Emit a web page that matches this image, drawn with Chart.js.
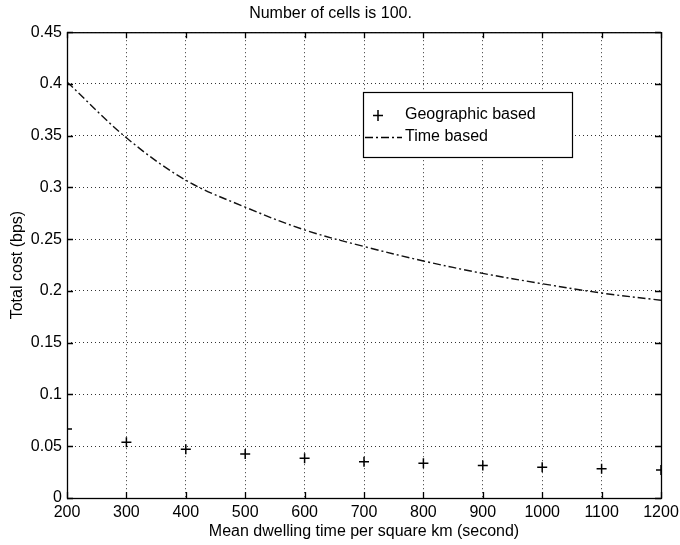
<!DOCTYPE html>
<html>
<head>
<meta charset="utf-8">
<script src="https://cdn.jsdelivr.net/npm/chart.js@4"></script>
<style>
  html, body { margin: 0; padding: 0; background: #fff; }
  #wrap { width: 680px; height: 545px; }
</style>
</head>
<body>
<div id="wrap"><canvas id="costChart" width="680" height="545"></canvas></div>
<script>
// dwelling time (s) and total cost (bps)
const dwellTimes = [200, 300, 400, 500, 600, 700, 800, 900, 1000, 1100, 1200];
const geographicCost = [0.0666, 0.0538, 0.047, 0.0425, 0.0383, 0.035, 0.0335, 0.0315, 0.0296, 0.0283, 0.027];
const timeCost = [0.402, 0.348, 0.307, 0.281, 0.259, 0.243, 0.229, 0.217, 0.207, 0.198, 0.191];
const seriesNames = ["Geographic based", "Time based"];

const FONT = "'Liberation Sans', Arial, Helvetica, sans-serif";
const DASHDOT = [8, 3, 2, 3];

// box round the plot with inward ticks on all four sides (matlab look)
const frame = {
  id: "frame",
  afterDatasetsDraw(chart) {
    const { ctx, chartArea: a, scales } = chart;
    ctx.save();
    ctx.strokeStyle = "#000";
    ctx.lineWidth = 1.3;
    ctx.strokeRect(a.left + 0.5, a.top + 0.5, a.width, a.height);
    ctx.beginPath();
    scales.x.ticks.forEach(t => {
      const x = Math.round(scales.x.getPixelForValue(t.value)) + 0.5;
      ctx.moveTo(x, a.bottom); ctx.lineTo(x, a.bottom - 6);
      ctx.moveTo(x, a.top); ctx.lineTo(x, a.top + 6);
    });
    scales.y.ticks.forEach(t => {
      const y = Math.round(scales.y.getPixelForValue(t.value)) + 0.5;
      ctx.moveTo(a.left, y); ctx.lineTo(a.left + 6, y);
      ctx.moveTo(a.right, y); ctx.lineTo(a.right - 6, y);
    });
    ctx.stroke();
    ctx.restore();
  }
};

// legend box drawn inside the plot
const boxLegend = {
  id: "boxLegend",
  afterDraw(chart) {
    const { ctx } = chart;
    const x0 = 363, y0 = 92, w = 209, h = 65;
    ctx.save();
    ctx.fillStyle = "#fff";
    ctx.fillRect(x0, y0, w, h);
    ctx.strokeStyle = "#000";
    ctx.lineWidth = 1.2;
    ctx.strokeRect(x0 + 0.5, y0 + 0.5, w, h);
    // cross marker
    ctx.lineWidth = 1.5;
    ctx.beginPath();
    ctx.moveTo(378 - 5, y0 + 23.5); ctx.lineTo(378 + 5, y0 + 23.5);
    ctx.moveTo(378, y0 + 18); ctx.lineTo(378, y0 + 29);
    ctx.stroke();
    // dash-dot sample
    ctx.lineWidth = 1.3;
    ctx.setLineDash(DASHDOT);
    ctx.beginPath();
    ctx.moveTo(x0 + 2, y0 + 45.5); ctx.lineTo(402, y0 + 45.5);
    ctx.stroke();
    ctx.setLineDash([]);
    ctx.fillStyle = "#000";
    ctx.font = "16px " + FONT;
    ctx.textBaseline = "middle";
    ctx.fillText(seriesNames[0], 405, y0 + 23);
    ctx.fillText(seriesNames[1], 405, y0 + 45);
    ctx.restore();
  }
};

const gridStyle = {
  color: "#333",
  lineWidth: 1,
  drawTicks: false
};

new Chart(document.getElementById("costChart").getContext("2d"), {
  type: "line",
  data: {
    labels: dwellTimes,
    datasets: [
      {
        label: seriesNames[0],
        data: dwellTimes.map((t, i) => ({ x: t, y: geographicCost[i] })),
        showLine: false,
        pointStyle: "cross",
        pointRadius: 5,
        pointBorderWidth: 1.5,
        borderColor: "#000",
        backgroundColor: "#000"
      },
      {
        label: seriesNames[1],
        data: dwellTimes.map((t, i) => ({ x: t, y: timeCost[i] })),
        borderColor: "#111",
        borderWidth: 1.4,
        borderDash: DASHDOT,
        pointRadius: 0,
        tension: 0.35,
        fill: false
      }
    ]
  },
  options: {
    responsive: false,
    animation: false,
    layout: { padding: { left: 0, right: 19, top: 0, bottom: 0 } },
    plugins: {
      legend: { display: false },
      tooltip: { enabled: false },
      title: {
        display: true,
        text: "Number of cells is 100.",
        color: "#000",
        font: { family: FONT, size: 16, weight: "normal" },
        padding: { top: 4, bottom: 9 }
      }
    },
    scales: {
      x: {
        type: "linear",
        min: 200,
        max: 1200,
        ticks: {
          stepSize: 100,
          color: "#000",
          padding: 5,
          font: { family: FONT, size: 16 },
          callback: v => String(v)
        },
        grid: { ...gridStyle },
        border: { display: false, dash: [1, 3] },
        title: {
          display: true,
          text: "Mean dwelling time per square km (second)",
          color: "#000",
          font: { family: FONT, size: 16 },
          padding: { top: 0, bottom: 4 }
        },
        afterFit: s => { s.height = 47; s.paddingRight = 0; s.paddingLeft = 0; }
      },
      y: {
        min: 0,
        max: 0.45,
        ticks: {
          stepSize: 0.05,
          color: "#000",
          padding: 5,
          font: { family: FONT, size: 16 },
          callback: v => String(+v.toFixed(2))
        },
        grid: { ...gridStyle },
        border: { display: false, dash: [1, 3] },
        title: {
          display: true,
          text: "Total cost (bps)",
          color: "#000",
          font: { family: FONT, size: 16 },
          padding: { top: 8, bottom: 2 }
        },
        afterFit: s => { s.width = 67; }
      }
    }
  },
  plugins: [frame, boxLegend]
});
</script>
</body>
</html>
